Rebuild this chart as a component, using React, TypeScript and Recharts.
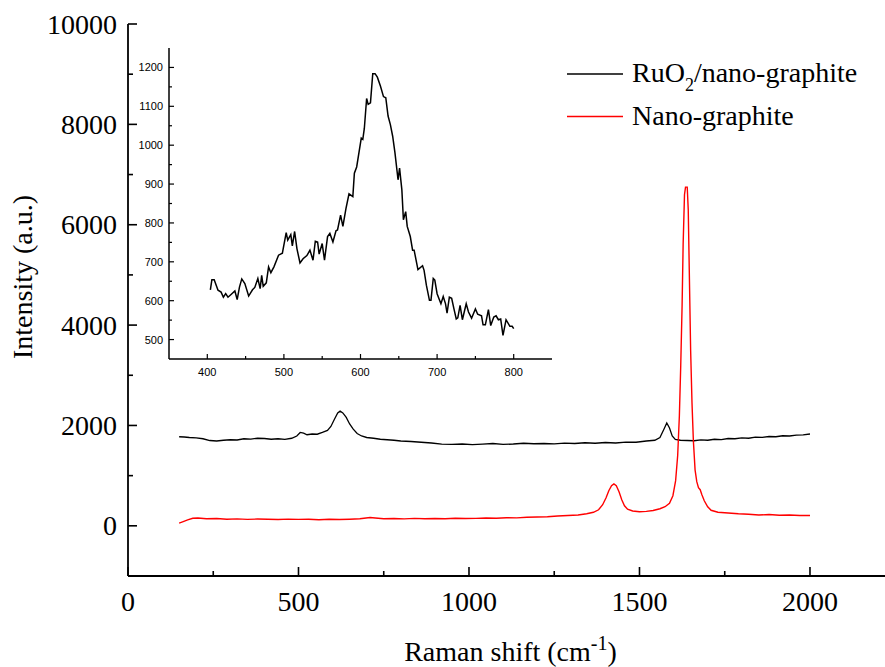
import React from 'react';
import { LineChart, Line, XAxis, YAxis, Legend } from 'recharts';

// ---------- Main chart data ----------
const ruo2Shift = [150, 165, 180, 200, 220, 240, 260, 280, 300, 320, 340, 360, 380, 400, 420, 440, 460, 480, 495, 505, 515, 525, 540, 555, 570, 585, 595, 605, 615, 622, 630, 640, 650, 660, 672, 685, 700, 720, 740, 760, 780, 800, 830, 860, 890, 920, 950, 980, 1010, 1040, 1070, 1100, 1130, 1160, 1190, 1220, 1250, 1280, 1310, 1340, 1370, 1400, 1430, 1460, 1490, 1520, 1545, 1560, 1572, 1580, 1588, 1596, 1605, 1620, 1640, 1660, 1680, 1700, 1720, 1740, 1760, 1780, 1800, 1820, 1840, 1860, 1880, 1900, 1920, 1940, 1960, 1980, 2000];
const ruo2Intensity = [1775, 1770, 1760, 1752, 1735, 1700, 1690, 1705, 1715, 1710, 1735, 1728, 1745, 1740, 1725, 1735, 1722, 1745, 1790, 1860, 1845, 1815, 1830, 1825, 1860, 1900, 1980, 2120, 2250, 2285, 2250, 2160, 2030, 1930, 1840, 1790, 1760, 1745, 1725, 1715, 1705, 1690, 1680, 1665, 1650, 1628, 1622, 1630, 1618, 1628, 1640, 1622, 1630, 1645, 1635, 1640, 1632, 1648, 1640, 1655, 1645, 1660, 1650, 1668, 1665, 1690, 1705, 1760, 1930, 2050, 1950, 1790, 1720, 1705, 1700, 1695, 1712, 1705, 1725, 1718, 1740, 1735, 1752, 1745, 1768, 1762, 1780, 1775, 1795, 1790, 1808, 1812, 1830];

const graphiteShift = [150, 160, 175, 190, 205, 230, 260, 290, 320, 350, 380, 410, 440, 470, 500, 530, 560, 590, 620, 650, 680, 710, 725, 750, 780, 810, 840, 870, 900, 930, 960, 990, 1020, 1050, 1080, 1110, 1140, 1170, 1200, 1230, 1260, 1290, 1320, 1345, 1365, 1380, 1392, 1402, 1410, 1418, 1425, 1432, 1440, 1448, 1456, 1465, 1480, 1500, 1520, 1540, 1560, 1575, 1588, 1598, 1606, 1612, 1617, 1621, 1625, 1628, 1632, 1635, 1640, 1643, 1646, 1650, 1654, 1658, 1663, 1668, 1673, 1678, 1683, 1690, 1700, 1710, 1730, 1760, 1790, 1820, 1850, 1880, 1910, 1940, 1970, 2000];
const graphiteIntensity = [55, 80, 120, 150, 155, 140, 145, 132, 138, 128, 135, 130, 125, 133, 128, 132, 122, 130, 125, 132, 140, 165, 155, 140, 145, 138, 148, 142, 146, 140, 150, 145, 148, 155, 150, 162, 158, 170, 175, 182, 195, 205, 215, 240, 270, 320, 420, 560, 700, 800, 835, 800, 680, 520, 400, 330, 295, 280, 288, 305, 340, 380, 450, 600, 900, 1400, 2200, 3200, 4400, 5600, 6600, 6750, 6750, 6300, 5100, 3500, 2450, 1700, 1115, 880, 760, 720, 620, 500, 380, 310, 270, 255, 240, 230, 215, 225, 210, 215, 205, 205];

// ---------- Inset data ----------
const insetShift = [404, 406, 409, 414, 418, 421, 424, 427, 431, 436, 439, 442, 445, 449, 454, 459, 462, 466, 469, 471, 473, 477, 480, 483, 487, 493, 498, 503, 505, 509, 511, 514, 517, 521, 525, 530, 534, 538, 541, 544, 546, 550, 553, 557, 560, 564, 568, 570, 574, 577, 581, 585, 590, 592, 595, 601, 603, 605, 608, 610, 613, 616, 619, 622, 626, 630, 633, 636, 639, 642, 645, 649, 651, 654, 656, 659, 661, 665, 668, 670, 675, 681, 683, 686, 690, 692, 695, 697, 700, 705, 708, 711, 713, 716, 719, 722, 725, 727, 730, 733, 738, 741, 745, 750, 753, 758, 760, 763, 767, 770, 774, 777, 780, 783, 786, 790, 795, 798, 800];
const insetIntensity = [628, 654, 654, 627, 622, 609, 618, 609, 616, 625, 603, 635, 656, 644, 612, 628, 634, 657, 631, 665, 637, 646, 687, 672, 687, 717, 722, 775, 756, 770, 741, 778, 734, 697, 708, 716, 730, 704, 753, 751, 720, 747, 704, 765, 773, 751, 780, 782, 820, 791, 837, 875, 868, 928, 944, 1018, 1015, 1043, 1120, 1105, 1109, 1184, 1184, 1175, 1152, 1125, 1122, 1075, 1053, 1023, 980, 911, 941, 885, 808, 829, 791, 765, 730, 730, 680, 690, 678, 640, 601, 601, 657, 653, 618, 592, 611, 592, 568, 609, 606, 579, 553, 556, 588, 551, 592, 571, 555, 579, 565, 561, 538, 538, 577, 536, 558, 561, 551, 553, 511, 551, 534, 534, 528];

// ---------- Ticks / labels ----------
const mainXTicks = [0, 250, 500, 750, 1000, 1250, 1500, 1750, 2000];
const mainYTicks = [-1000, 0, 1000, 2000, 3000, 4000, 5000, 6000, 7000, 8000, 9000, 10000];
const insetXTicks = [400, 450, 500, 550, 600, 650, 700, 750, 800];
const insetYTicks = [500, 550, 600, 650, 700, 750, 800, 850, 900, 950, 1000, 1050, 1100, 1150, 1200];
const seriesNames = ['RuO2/nano-graphite', 'Nano-graphite'];
const seriesColors = ['#000000', '#ff0000'];

const ruo2Data = ruo2Shift.map((x, i) => ({ x, y: ruo2Intensity[i] }));
const graphiteData = graphiteShift.map((x, i) => ({ x, y: graphiteIntensity[i] }));
const insetData = insetShift.map((x, i) => ({ x, y: insetIntensity[i] }));

const SERIF = '"Liberation Serif", "Times New Roman", serif';
const SANS = '"Liberation Sans", Arial, sans-serif';

const MainYTick = (props: any) => {
  const { x, y, payload } = props;
  const v = payload.value;
  const major = v % 2000 === 0;
  const ax = x + 11;
  return (
    <g>
      <line x1={ax} x2={ax + (major ? 9 : 5)} y1={y} y2={y} stroke="#000" strokeWidth={1.6} />
      {major && (
        <text x={x} y={y} textAnchor="end" dominantBaseline="central" fontFamily={SERIF} fontSize={28} fill="#000">
          {v}
        </text>
      )}
    </g>
  );
};

const MainXTick = (props: any) => {
  const { x, y, payload } = props;
  const v = payload.value;
  const major = v % 500 === 0;
  const ay = y - 25;
  return (
    <g>
      <line x1={x} x2={x} y1={ay} y2={ay - (major ? 9 : 5)} stroke="#000" strokeWidth={1.6} />
      {major && (
        <text x={x} y={y} textAnchor="middle" dominantBaseline="central" fontFamily={SERIF} fontSize={28} fill="#000">
          {v}
        </text>
      )}
    </g>
  );
};

const InsetYTick = (props: any) => {
  const { x, y, payload } = props;
  const v = payload.value;
  const major = v % 100 === 0;
  const ax = x + 6;
  return (
    <g>
      <line x1={ax} x2={ax + (major ? 5 : 3)} y1={y} y2={y} stroke="#000" strokeWidth={1.2} />
      {major && (
        <text x={x} y={y} textAnchor="end" dominantBaseline="central" fontFamily={SANS} fontSize={11} fill="#000">
          {v}
        </text>
      )}
    </g>
  );
};

const InsetXTick = (props: any) => {
  const { x, y, payload } = props;
  const v = payload.value;
  const major = v % 100 === 0;
  const ay = y - 13;
  return (
    <g>
      <line x1={x} x2={x} y1={ay} y2={ay - (major ? 5 : 3)} stroke="#000" strokeWidth={1.2} />
      {major && (
        <text x={x} y={y} textAnchor="middle" dominantBaseline="central" fontFamily={SANS} fontSize={11} fill="#000">
          {v}
        </text>
      )}
    </g>
  );
};

const YLabel = (props: any) => {
  const vb = props.viewBox || { x: 0, y: 24, width: 128, height: 552 };
  const cx = 22;
  const cy = vb.y + vb.height / 2 - 23;
  return (
    <text x={cx} y={cy} transform={`rotate(-90, ${cx}, ${cy})`} textAnchor="middle" dominantBaseline="central" fontFamily={SERIF} fontSize={28} fill="#000">
      Intensity (a.u.)
    </text>
  );
};

const XLabel = (props: any) => {
  const vb = props.viewBox || { x: 128, y: 576, width: 757, height: 91 };
  const cx = vb.x + vb.width / 2 + 4;
  return (
    <text x={cx} y={661} textAnchor="middle" fontFamily={SERIF} fontSize={28} fill="#000">
      <tspan>Raman shift (cm</tspan>
      <tspan dy={-11} fontSize={20}>-1</tspan>
      <tspan dy={11}>)</tspan>
    </text>
  );
};

const renderName = (name: string) => {
  if (name.startsWith('RuO2')) {
    return (
      <>
        <tspan>RuO</tspan>
        <tspan dy={9} fontSize={18}>2</tspan>
        <tspan dy={-9}>{name.slice(4)}</tspan>
      </>
    );
  }
  return <tspan>{name}</tspan>;
};

const renderLegend = (props: any) => {
  const items = [...(props.payload || [])].sort(
    (a: any, b: any) => seriesNames.indexOf(a.value) - seriesNames.indexOf(b.value)
  );
  return (
    <svg width={320} height={90} style={{ display: 'block' }}>
      {items.map((it: any, i: number) => (
        <g key={it.value}>
          <line x1={7} x2={63} y1={24 + 42.5 * i} y2={24 + 42.5 * i} stroke={it.color} strokeWidth={1.4} />
          <text x={72} y={32 + 43 * i} fontFamily={SERIF} fontSize={28} fill="#000">
            {renderName(it.value)}
          </text>
        </g>
      ))}
    </svg>
  );
};

export default function App() {
  return (
    <div style={{ position: 'absolute', left: 0, top: 0, width: 885, height: 667, background: '#fff' }}>
      <div style={{ position: 'absolute', left: 0, top: 0 }}>
        <LineChart width={885} height={667} margin={{ top: 24, right: 0, left: 0, bottom: 0 }}>
          <XAxis
            dataKey="x"
            type="number"
            domain={[0, 2220]}
            ticks={mainXTicks}
            interval={0}
            height={91}
            tickSize={0}
            tickMargin={25}
            tickLine={false}
            tick={<MainXTick />}
            axisLine={{ stroke: '#000', strokeWidth: 1.8 }}
            label={<XLabel />}
          />
          <XAxis
            xAxisId="top"
            orientation="top"
            type="number"
            domain={[0, 2220]}
            height={0}
            tick={false}
            tickLine={false}
            axisLine={{ stroke: '#000', strokeWidth: 1.5 }}
          />
          <YAxis
            type="number"
            domain={[-1000, 10000]}
            ticks={mainYTicks}
            interval={0}
            width={128}
            tickSize={0}
            tickMargin={11}
            tickLine={false}
            tick={<MainYTick />}
            axisLine={{ stroke: '#000', strokeWidth: 1.8 }}
            label={<YLabel />}
          />
          <Legend
            layout="vertical"
            align="center"
            verticalAlign="middle"
            content={renderLegend}
            wrapperStyle={{ position: 'absolute', left: 560, top: 50, width: 320, height: 90 }}
          />
          <Line
            data={ruo2Data}
            dataKey="y"
            name={seriesNames[0]}
            stroke={seriesColors[0]}
            strokeWidth={1.3}
            dot={false}
            type="linear"
            isAnimationActive={false}
          />
          <Line
            data={graphiteData}
            dataKey="y"
            name={seriesNames[1]}
            stroke={seriesColors[1]}
            strokeWidth={1.4}
            dot={false}
            type="linear"
            isAnimationActive={false}
          />
        </LineChart>
      </div>
      <div style={{ position: 'absolute', left: 120, top: 30 }}>
        <LineChart width={450} height={360} data={insetData} margin={{ top: 18, right: 18, left: 0, bottom: 0 }}>
          <XAxis
            dataKey="x"
            type="number"
            domain={[350, 850]}
            ticks={insetXTicks}
            interval={0}
            height={31}
            tickSize={0}
            tickMargin={13}
            tickLine={false}
            tick={<InsetXTick />}
            axisLine={{ stroke: '#000', strokeWidth: 1.5 }}
          />
          <XAxis
            xAxisId="top"
            orientation="top"
            type="number"
            domain={[350, 850]}
            height={0}
            tick={false}
            tickLine={false}
            axisLine={{ stroke: '#777', strokeWidth: 1.5 }}
          />
          <YAxis
            type="number"
            domain={[450, 1250]}
            ticks={insetYTicks}
            interval={0}
            width={49}
            tickSize={0}
            tickMargin={6}
            tickLine={false}
            tick={<InsetYTick />}
            axisLine={{ stroke: '#000', strokeWidth: 1.5 }}
          />
          <YAxis
            yAxisId="right"
            orientation="right"
            type="number"
            domain={[450, 1250]}
            width={0}
            tick={false}
            tickLine={false}
            axisLine={{ stroke: '#777', strokeWidth: 1.5 }}
          />
          <Line
            dataKey="y"
            stroke="#000"
            strokeWidth={1.5}
            dot={false}
            type="linear"
            isAnimationActive={false}
          />
        </LineChart>
      </div>
    </div>
  );
}
